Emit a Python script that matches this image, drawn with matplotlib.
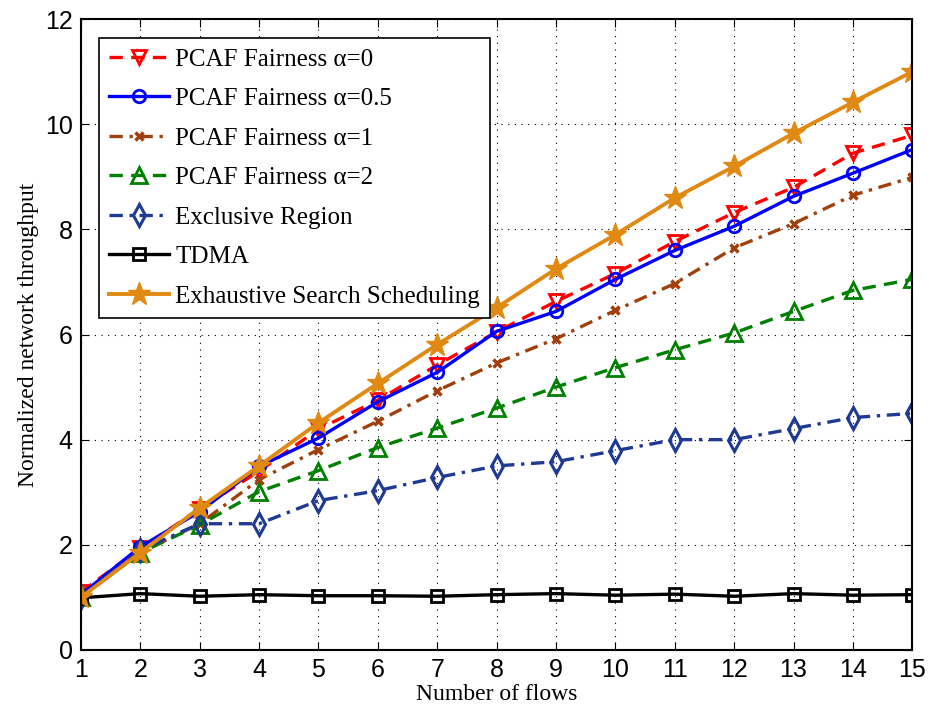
import matplotlib
matplotlib.use("Agg")
import matplotlib.pyplot as plt

# number of flows
flows = list(range(1, 16))

# normalized network throughput
pcaf_a0 = [1.1, 1.93, 2.68, 3.4, 4.2, 4.75, 5.42, 6.05, 6.63, 7.16, 7.77, 8.32, 8.8, 9.45, 9.79]
pcaf_a05 = [1.05, 1.96, 2.63, 3.49, 4.03, 4.72, 5.28, 6.06, 6.44, 7.05, 7.6, 8.06, 8.63, 9.07, 9.52]
pcaf_a1 = [1.0, 1.85, 2.4, 3.24, 3.81, 4.35, 4.93, 5.46, 5.92, 6.46, 6.97, 7.65, 8.11, 8.65, 8.99]
pcaf_a2 = [1.0, 1.85, 2.38, 3.01, 3.41, 3.85, 4.22, 4.6, 5.0, 5.37, 5.71, 6.03, 6.44, 6.84, 7.05]
excl_region = [1.0, 1.9, 2.4, 2.4, 2.84, 3.03, 3.28, 3.5, 3.58, 3.79, 4.0, 4.0, 4.21, 4.42, 4.5]
tdma = [0.99, 1.07, 1.02, 1.05, 1.03, 1.03, 1.02, 1.05, 1.07, 1.04, 1.06, 1.02, 1.07, 1.04, 1.05]
exhaustive = [1.0, 1.85, 2.7, 3.5, 4.32, 5.07, 5.81, 6.51, 7.25, 7.9, 8.6, 9.2, 9.83, 10.42, 11.0]

fig = plt.figure(figsize=(9.3, 7.11), dpi=100)
ax = fig.add_axes([0.087, 0.086, 0.894, 0.887])

lw = 2.4
ax.plot(flows, pcaf_a0, color='red', ls=(0, (4, 2.5)), lw=lw, marker='v', ms=10,
        mfc='none', mew=2, label='PCAF Fairness α=0')
ax.plot(flows, pcaf_a05, color='blue', ls='-', lw=lw, marker='o', ms=9,
        mfc='none', mew=2, label='PCAF Fairness α=0.5')
ax.plot(flows, pcaf_a1, color='#a0410d', ls=(0, (4, 2, 1, 2)), lw=lw, marker='x', ms=6,
        mew=2.5, label='PCAF Fairness α=1')
ax.plot(flows, pcaf_a2, color='#008000', ls=(0, (4, 2.5)), lw=lw, marker='^', ms=11,
        mfc='none', mew=2, label='PCAF Fairness α=2')
ax.plot(flows, excl_region, color='#1f3a93', ls=(0, (4, 2, 1, 2)), lw=lw, marker='d', ms=11,
        mfc='none', mew=2.2, label='Exclusive Region')
ax.plot(flows, tdma, color='black', ls='-', lw=lw, marker='s', ms=8,
        mfc='none', mew=2, label='TDMA')
ax.plot(flows, exhaustive, color='#e08a14', ls='-', lw=lw + 0.4, marker='*', ms=17,
        label='Exhaustive Search Scheduling')

ax.set_xlim(1, 15)
ax.set_ylim(0, 12)
ax.set_xticks(flows)
ax.set_yticks(range(0, 13, 2))
ax.grid(True, color='black', ls=(0, (1, 5)), lw=0.8)
ax.tick_params(direction='in', top=True, right=True, length=6, labelsize=18, pad=6)
for lab in ax.get_xticklabels() + ax.get_yticklabels():
    lab.set_family('Liberation Sans')
for sp in ax.spines.values():
    sp.set_linewidth(1.5)

ax.set_xlabel('Number of flows', family='Liberation Serif', fontsize=17, labelpad=1)
ax.set_ylabel('Normalized network throughput', family='Liberation Serif', fontsize=17, labelpad=4)

leg = ax.legend(loc='upper left', bbox_to_anchor=(0.022, 0.97), prop={'family': 'Liberation Serif', 'size': 18},
                frameon=True, fancybox=False, edgecolor='black', framealpha=1,
                handlelength=2.4, handletextpad=0.25, labelspacing=0.68, borderpad=0.4, borderaxespad=0)
leg.get_frame().set_linewidth(1.2)

fig.savefig('out.png', dpi=100)
